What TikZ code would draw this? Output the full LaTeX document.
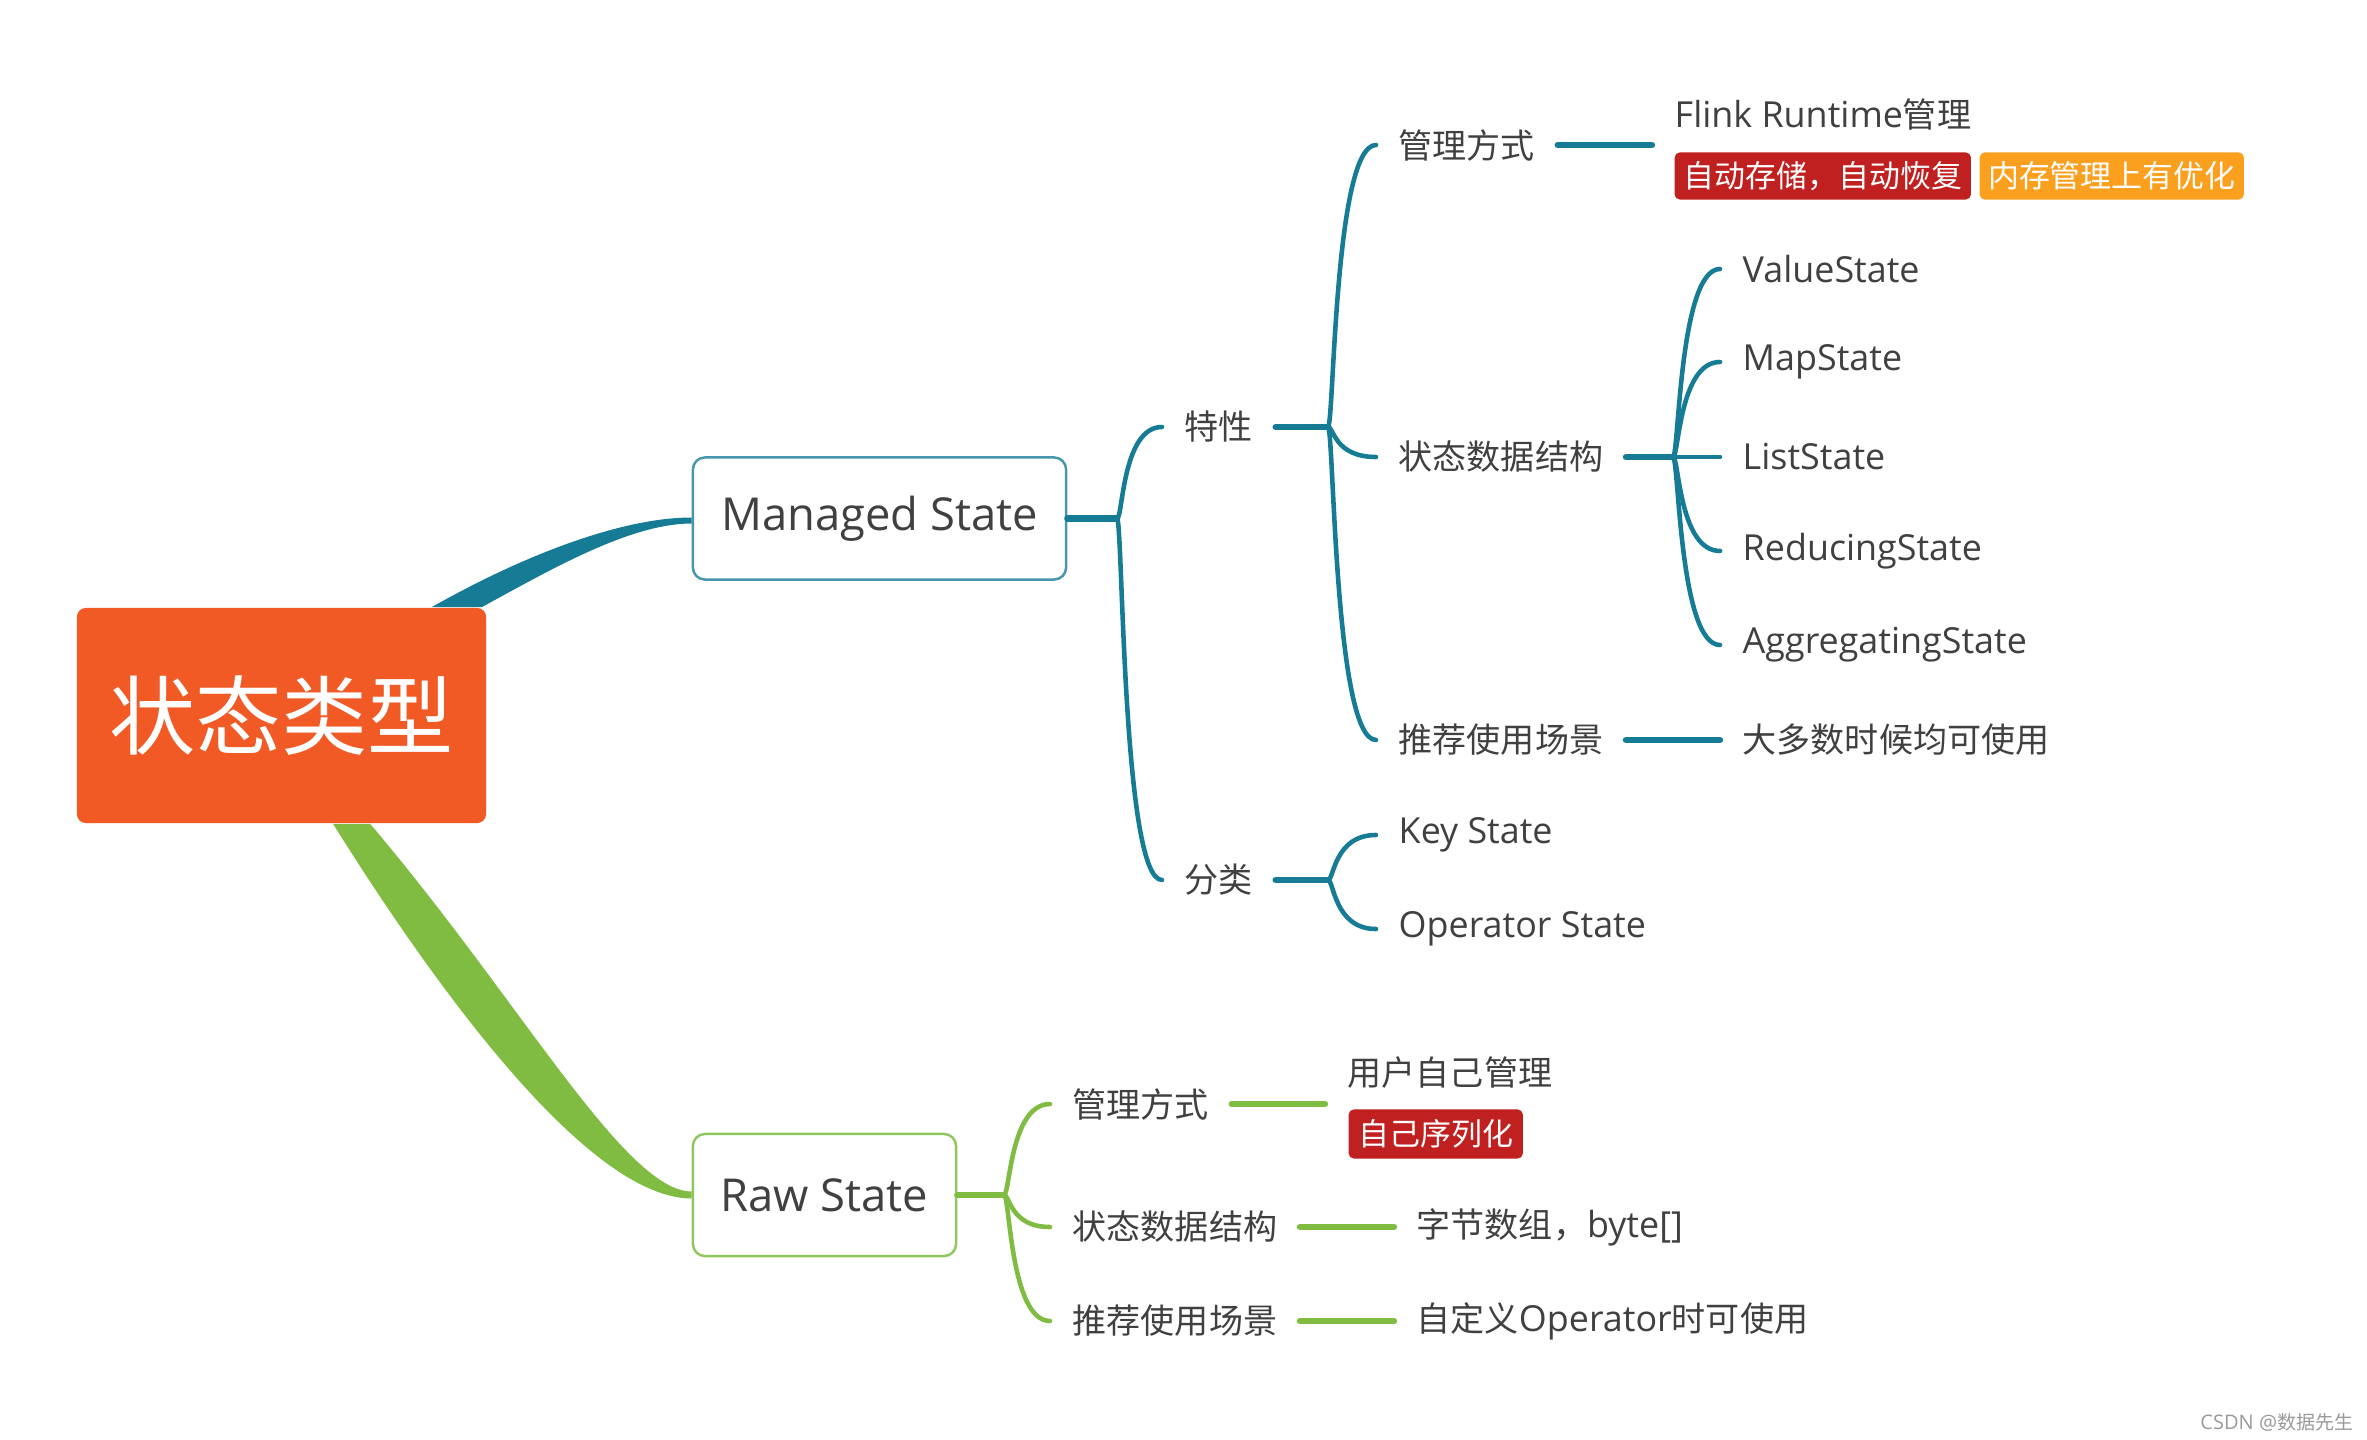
\documentclass[tikz,border=0pt]{standalone}
\usepackage{fontspec}
\setmainfont{Open Sans}
\newfontfamily\cjk{Noto Sans CJK SC}[Scale=0.95]
\newcommand{\zh}[1]{{\cjk #1}}
\definecolor{rootorange}{HTML}{F15A24}
\definecolor{tealline}{HTML}{167C95}
\definecolor{tealbox}{HTML}{4696AE}
\definecolor{greenline}{HTML}{80BC42}
\definecolor{greenbox}{HTML}{8FC65E}
\definecolor{tagred}{HTML}{C0201F}
\definecolor{tagorange}{HTML}{FBA01E}
\definecolor{textgray}{HTML}{404040}
\tikzset{
  leaf/.style={anchor=west, inner xsep=0.22cm, inner ysep=0.04cm, text=textgray,
    font=\fontsize{10.2pt}{12pt}\selectfont},
  mainbox/.style={rounded corners=0.12cm, fill=white, line width=0.7pt, text=textgray,
    font=\fontsize{12.9pt}{15pt}\selectfont, minimum height=1.22cm},
  tagbox/.style={anchor=west, rounded corners=0.05cm, text=white, minimum height=0.47cm,
    inner sep=0pt, font=\fontsize{9.26pt}{11pt}\selectfont},
  stubline/.style={line width=1.8pt, line cap=round},
  branchline/.style={line width=1.3pt, line cap=round},
}

\begin{document}
\begin{tikzpicture}[x=0.01cm, y=-0.01cm]
\useasboundingbox (0,0) rectangle (2367,1440);

% Root and the two states
\node[rounded corners=0.09cm, fill=rootorange, text=white, minimum width=4.09cm, minimum height=2.15cm,
  font=\fontsize{25.8pt}{30pt}\selectfont] (root) at (281.5,715.5) {\zh{状态类型}};
\node[mainbox, draw=tealbox, minimum width=3.73cm] (managed) at (879.5,518.5) {Managed State};
\node[mainbox, draw=greenbox, minimum width=2.63cm] (raw) at (824.5,1195) {Raw State};

% Managed State
\node[leaf] (trait) at (1162,427) {\zh{特性}};
\node[leaf] (classify) at (1162,880) {\zh{分类}};
\node[leaf] (mgmtA) at (1376,145) {\zh{管理方式}};
\node[leaf] (dsA) at (1376,457) {\zh{状态数据结构}};
\node[leaf] (useA) at (1376,740) {\zh{推荐使用场景}};
\node[leaf] (flink) at (1652,115) {Flink Runtime\zh{管理}};
\node[tagbox, fill=tagred, minimum width=2.96cm] (autotag) at (1674,176) {\zh{自动存储，自动恢复}};
\node[tagbox, fill=tagorange, minimum width=2.64cm] (memtag) at (1979,176) {\zh{内存管理上有优化}};
\node[leaf] (value) at (1720,269) {ValueState};
\node[leaf] (map) at (1720,362) {MapState};
\node[leaf] (list) at (1720,457) {ListState};
\node[leaf] (reducing) at (1720,551) {ReducingState};
\node[leaf] (aggregating) at (1720,645) {AggregatingState};
\node[leaf] (mostly) at (1720,740) {\zh{大多数时候均可使用}};
\node[leaf] (keyst) at (1376,835) {Key State};
\node[leaf] (opst) at (1376,929) {Operator State};

% Raw State
\node[leaf] (mgmtB) at (1050,1104) {\zh{管理方式}};
\node[leaf] (dsB) at (1050,1227) {\zh{状态数据结构}};
\node[leaf] (useB) at (1050,1321) {\zh{推荐使用场景}};
\node[leaf] (user) at (1325,1073) {\zh{用户自己管理}};
\node[tagbox, fill=tagred, minimum width=1.74cm, minimum height=0.49cm] (selftag) at (1348,1134) {\zh{自己序列化}};
\node[leaf] (bytes) at (1394,1227) {\zh{字节数组，}byte[]};
\node[leaf] (custom) at (1394,1321) {\zh{自定义}Operator\zh{时可使用}};

\node[anchor=west, text=black!40, font=\fontsize{5.7pt}{7pt}\selectfont] (mark) at (2188,1422) {CSDN @\zh{数据先生}};

% Main connectors
\fill[tealline] ([xshift=1.5cm]root.north) .. controls (520,557) and (620,517.5) .. ([yshift=0.01cm]managed.west)
  -- ([yshift=-0.05cm]managed.west) .. controls (630,523.5) and (550,570) .. ([xshift=2cm]root.north) -- cycle;
\fill[greenline] ([xshift=0.515cm]root.south) .. controls (440,995) and (590,1198.5) .. ([yshift=-0.035cm]raw.west)
  -- ([yshift=0.035cm]raw.west) .. controls (625,1191.5) and (520,1000) .. ([xshift=0.885cm]root.south) -- cycle;

% Managed branches
\begin{scope}[color=tealline]
  \coordinate[xshift=-0.45cm] (jManaged) at (managed.east -| trait.west);
  \draw[stubline] (managed.east) -- (jManaged);
  \foreach \c in {trait,classify}
    \draw[branchline] (jManaged) .. controls +(6,0) and +(-40,0) .. (\c.west);

  \coordinate[xshift=-0.48cm] (jTrait) at (trait.east -| mgmtA.west);
  \draw[stubline] (trait.east) -- (jTrait);
  \foreach \c in {mgmtA,dsA,useA}
    \draw[branchline] (jTrait) .. controls +(6,0) and +(-42,0) .. (\c.west);

  \coordinate[xshift=-0.48cm] (jClassify) at (classify.east -| keyst.west);
  \draw[stubline] (classify.east) -- (jClassify);
  \foreach \c in {keyst,opst}
    \draw[branchline] (jClassify) .. controls +(6,0) and +(-42,0) .. (\c.west);

  \coordinate[xshift=-0.47cm] (jData) at (dsA.east -| value.west);
  \draw[stubline] (dsA.east) -- (jData);
  \foreach \c in {value,map,list,reducing,aggregating}
    \draw[branchline] (jData) .. controls +(6,0) and +(-41,0) .. (\c.west);

  \draw[stubline] (mgmtA.east) -- (mgmtA.east -| flink.west);
  \draw[stubline] (useA.east) -- (useA.east -| mostly.west);
\end{scope}

% Raw branches
\begin{scope}[color=greenline]
  \coordinate[xshift=-0.46cm] (jRaw) at (raw.east -| mgmtB.west);
  \draw[stubline] (raw.east) -- (jRaw);
  \foreach \c in {mgmtB,dsB,useB}
    \draw[branchline] (jRaw) .. controls +(6,0) and +(-40,0) .. (\c.west);

  \draw[stubline] (mgmtB.east) -- (mgmtB.east -| user.west);
  \draw[stubline] (dsB.east) -- (dsB.east -| bytes.west);
  \draw[stubline] (useB.east) -- (useB.east -| custom.west);
\end{scope}

\end{tikzpicture}
\end{document}
